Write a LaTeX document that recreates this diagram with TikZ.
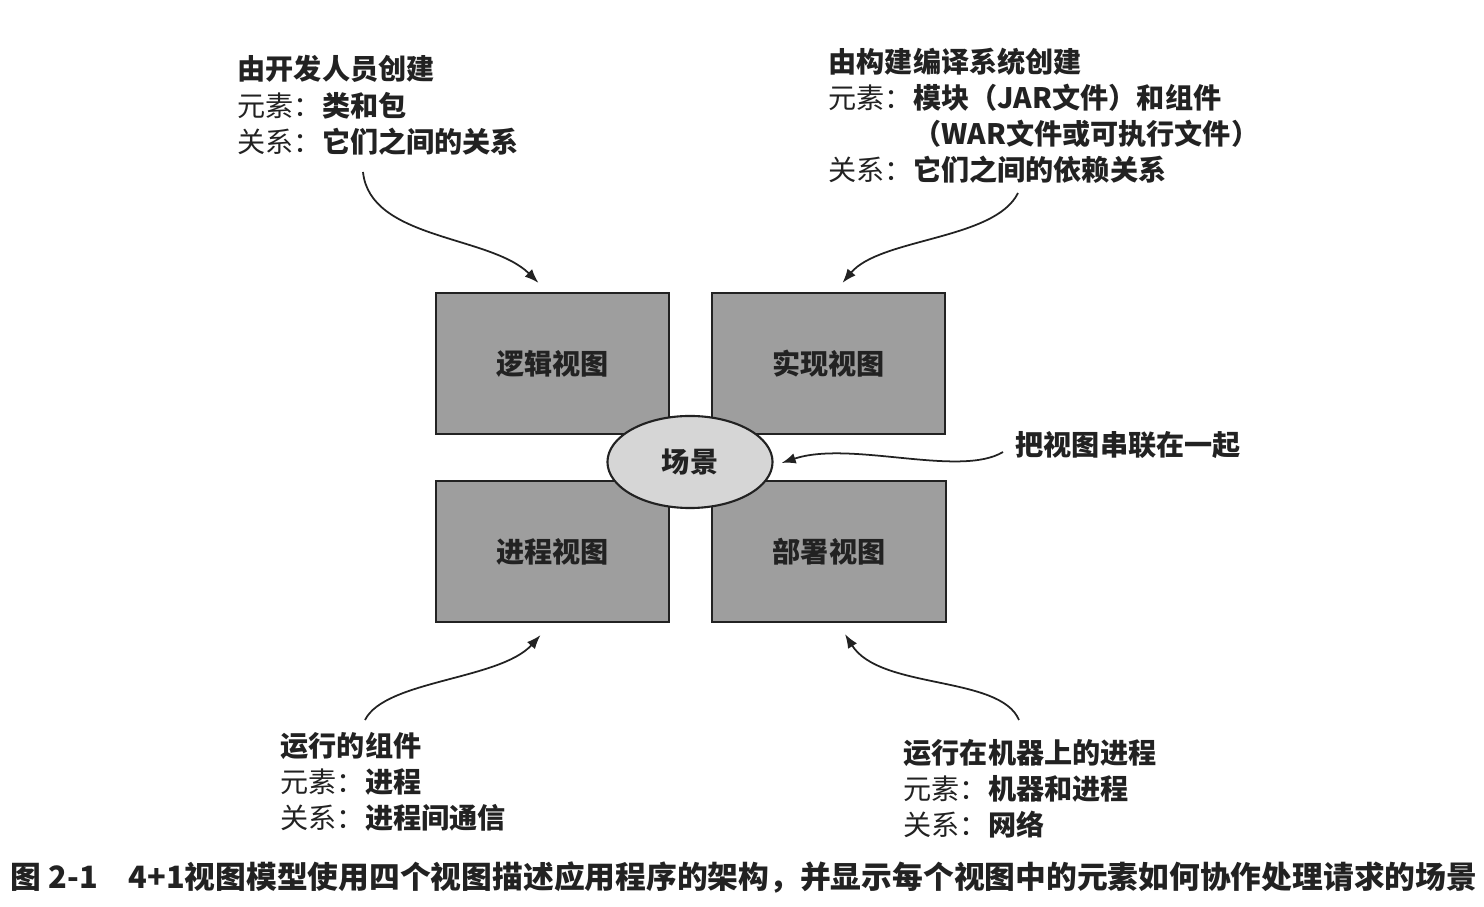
\documentclass[tikz,border=0pt]{standalone}
\usepackage{fontspec}
\setmainfont{Noto Sans CJK SC}
\usetikzlibrary{shapes.geometric,arrows.meta,calc}
\definecolor{viewgray}{RGB}{158,158,158}
\definecolor{scenegray}{RGB}{214,214,214}
\definecolor{inkgray}{RGB}{34,34,34}
\tikzset{%
    view/.style={%
        draw=inkgray, line width=0.6pt, fill=viewgray, text=inkgray,
        minimum width=2.33cm, minimum height=1.41cm,
        font=\fontsize{8}{10}\selectfont\bfseries
    },
    scenebox/.style={%
        ellipse, draw=inkgray, line width=0.6pt, fill=scenegray, text=inkgray,
        minimum width=1.65cm, minimum height=0.92cm, inner sep=0pt,
        font=\fontsize{8}{10}\selectfont\bfseries
    },
    note/.style={%
        anchor=north west, inner sep=0pt, align=left, text=inkgray,
        font=\fontsize{8}{10.24}\selectfont
    },
    conn/.style={-{Latex[length=4pt,width=3pt]}, line width=0.5pt, color=inkgray}
}

\begin{document}
\begin{tikzpicture}[x=0.01cm, y=-0.01cm]
    \useasboundingbox (0,0) rectangle (1484,907);
%-----------------------------------------------
    \node[view] (logic) at (552.5,363.5) {逻辑视图};
    \node[view] (impl) at (828.5,363.5) {实现视图};
    \node[view] (proc) at (552.5,551.5) {进程视图};
    \node[view] (deploy) at (829,551.5) {部署视图};
    \node[scenebox] (scene) at (690,462) {场景};
%-----------------------------------------------
    \node[note] (devtxt) at (237,55) {\textbf{由开发人员创建}\\元素：\textbf{类和包}\\关系：\textbf{它们之间的关系}};
    \node[note] (buildtxt) at (828,47) {\textbf{由构建编译系统创建}\\元素：\textbf{模块（JAR文件）和组件}\\\phantom{元素：}\textbf{（WAR文件或可执行文件）}\\关系：\textbf{它们之间的依赖关系}};
    \node[note] (runtxt) at (280,732) {\textbf{运行的组件}\\元素：\textbf{进程}\\关系：\textbf{进程间通信}};
    \node[note] (hosttxt) at (903,739) {\textbf{运行在机器上的进程}\\元素：\textbf{机器和进程}\\关系：\textbf{网络}};
    \node[note, anchor=west] (linktxt) at (1015,445) {\textbf{把视图串联在一起}};
%-----------------------------------------------
    \coordinate (devtail) at (363,172);
    \coordinate (buildtail) at (1018,193);
    \coordinate (runtail) at (365,720);
    \coordinate (hosttail) at (1019,720);
    \coordinate (linktail) at (1003,452);
%-----------------------------------------------
    \draw[conn] (devtail) .. controls (370,240) and (490,235) .. ($(logic.north)+(-14,-9)$);
    \draw[conn] (buildtail) .. controls (995,240) and (880,238) .. ($(impl.north)+(14,-9)$);
    \draw[conn] (runtail) .. controls (385,680) and (500,680) .. ($(proc.south)+(-12,12)$);
    \draw[conn] (hosttail) .. controls (1000,675) and (880,690) .. ($(deploy.south)+(16,11)$);
    \draw[conn] (linktail) .. controls (960,478) and (850,440) .. ($(scene.east)+(8,1)$);
%-----------------------------------------------
    \node[note, font=\fontsize{8.75}{10.5}\selectfont\bfseries] (caption) at (10,861) {图 2-1\quad 4+1视图模型使用四个视图描述应用程序的架构，并显示每个视图中的元素如何协作处理请求的场景};
\end{tikzpicture}
\end{document}
